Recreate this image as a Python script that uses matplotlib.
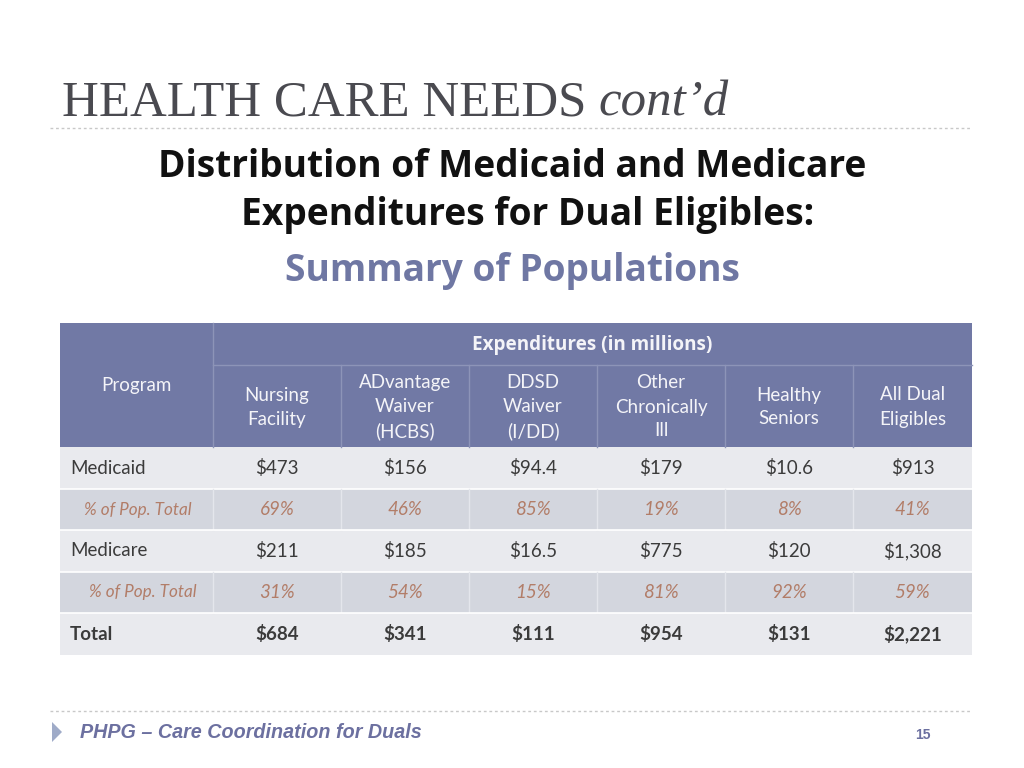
import matplotlib
matplotlib.use("Agg")
import matplotlib.pyplot as plt
from matplotlib.patches import Rectangle, Polygon

# ---------------- data ----------------
columns = ["Nursing\nFacility", "ADvantage\nWaiver\n(HCBS)", "DDSD\nWaiver\n(I/DD)",
           "Other\nChronically\nIll", "Healthy\nSeniors", "All Dual\nEligibles"]
row_labels = ["Medicaid", "% of Pop. Total", "Medicare", "% of Pop. Total", "Total"]
medicaid = [473, 156, 94.4, 179, 10.6, 913]
medicaid_pct = [69, 46, 85, 19, 8, 41]
medicare = [211, 185, 16.5, 775, 120, 1308]
medicare_pct = [31, 54, 15, 81, 92, 59]
total = [684, 341, 111, 954, 131, 2221]

title = "HEALTH CARE NEEDS"
title_it = "cont\u2019d"
subtitle1 = "Distribution of Medicaid and Medicare"
subtitle2 = "Expenditures for Dual Eligibles:"
subtitle3 = "Summary of Populations"
group_header = "Expenditures (in millions)"
program_header = "Program"
footer = "PHPG \u2013 Care Coordination for Duals"
page_no = "15"


def money(v):
    if float(v).is_integer():
        return f"${v:,.0f}"
    return f"${v:,.1f}"


def pct(v):
    return f"{v}%"


# ---------------- layout ----------------
W, H = 1024, 768
fig = plt.figure(figsize=(10.24, 7.68), dpi=100)
ax = fig.add_axes([0, 0, 1, 1])
ax.set_xlim(0, W)
ax.set_ylim(H, 0)
ax.axis("off")

SANS = ["Lato", "DejaVu Sans"]
WIDE = ["Open Sans", "DejaVu Sans"]
SERIF = ["Liberation Serif", "DejaVu Serif"]
HEAD_BG = "#7179a5"
HEAD_LINE = "#8d94b8"
LIGHT_BG = "#e9eaee"
DARK_BG = "#d3d6de"
TXT = "#3b3b3b"
PCT_TXT = "#b27d68"

# title
t = ax.text(62, 115, title, fontsize=36.6, family=SERIF, color="#4a4a50",
            va="baseline", ha="left")
fig.canvas.draw()
bb = t.get_window_extent()
ax.text(bb.x1 + 12, 115, title_it, fontsize=36.6, family=SERIF, style="italic",
        color="#4a4a50", va="baseline", ha="left")
ax.plot([50, 972], [128, 128], color="#c8c8c8", lw=1, ls=(0, (2, 2)))

# subtitles
ax.text(512, 167, subtitle1, fontsize=26.7, family=WIDE, weight="bold", color="#111111",
        ha="center", va="center")
ax.text(528, 215, subtitle2, fontsize=26.7, family=WIDE, weight="bold", color="#111111",
        ha="center", va="center")
ax.text(512, 271, subtitle3, fontsize=26.7, family=WIDE, weight="bold", color="#6f77a3",
        ha="center", va="center")

# table geometry
col_edges = [60, 213, 341, 469, 597, 725, 853, 972]
head_top, head_mid, head_bot = 323, 365, 447
row_edges = [447, 489, 530, 572, 613, 655]

# header background
ax.add_patch(Rectangle((col_edges[0], head_top), col_edges[-1] - col_edges[0],
                       head_bot - head_top, color=HEAD_BG, lw=0))
ax.plot([col_edges[1], col_edges[1]], [head_top, head_bot], color=HEAD_LINE, lw=1)
ax.plot([col_edges[1], col_edges[-1]], [head_mid, head_mid], color=HEAD_LINE, lw=1)
for x in col_edges[2:-1]:
    ax.plot([x, x], [head_mid, head_bot], color=HEAD_LINE, lw=1)

ax.text((col_edges[0] + col_edges[1]) / 2, 386, program_header, fontsize=13.5, family=SANS,
        color="#f4f4f8", ha="center", va="center")
ax.text((col_edges[1] + col_edges[-1]) / 2, 345, group_header, fontsize=13.6, family=WIDE,
        weight="bold", color="#f4f4f8", ha="center", va="center")
for i, name in enumerate(columns):
    cx = (col_edges[i + 1] + col_edges[i + 2]) / 2
    ax.text(cx, (head_mid + head_bot) / 2 + 1, name, fontsize=13.5, family=SANS,
            color="#f4f4f8", ha="center", va="center", linespacing=1.5,
            multialignment="center")

# body
rows = [
    (medicaid, money, LIGHT_BG, TXT, "normal", "normal", 70),
    (medicaid_pct, pct, DARK_BG, PCT_TXT, "normal", "italic", 84),
    (medicare, money, LIGHT_BG, TXT, "normal", "normal", 70),
    (medicare_pct, pct, DARK_BG, PCT_TXT, "normal", "italic", 89),
    (total, money, LIGHT_BG, TXT, "bold", "normal", 70),
]
for r, (vals, fmt, bg, tc, wt, st, lx) in enumerate(rows):
    y0, y1 = row_edges[r], row_edges[r + 1]
    ax.add_patch(Rectangle((col_edges[0], y0), col_edges[-1] - col_edges[0], y1 - y0,
                           color=bg, lw=0))
    if r > 0:
        ax.plot([col_edges[0], col_edges[-1]], [y0, y0], color="white", lw=1.2)
    if bg == DARK_BG:
        for x in col_edges[1:-1]:
            ax.plot([x, x], [y0, y1], color="#e4e6ec", lw=1)
    yc = (y0 + y1) / 2
    fs = 13.5 if st == "normal" else 12.3
    ax.text(lx, yc, row_labels[r], fontsize=fs, family=SANS,
            color=tc, weight=wt, style=st, ha="left", va="center")
    for i, v in enumerate(vals):
        cx = (col_edges[i + 1] + col_edges[i + 2]) / 2
        ax.text(cx, yc, fmt(v), fontsize=13.5, family=SANS,
                color=tc, weight=wt, style=st, ha="center", va="center")

# footer
ax.plot([50, 972], [711, 711], color="#c8c8c8", lw=1, ls=(0, (2, 2)))
ax.add_patch(Polygon([[52, 722], [52, 742], [62, 732]], closed=True, color="#9fabc8", lw=0))
ax.text(80, 732, footer, fontsize=14.2, family=["Liberation Sans", "DejaVu Sans"],
        weight="bold", style="italic", color="#6c70a0", ha="left", va="center")
ax.text(923, 735, page_no, fontsize=10, family=["Liberation Sans", "DejaVu Sans"],
        weight="bold", color="#6c70a0", ha="center", va="center")

fig.savefig("out.png", dpi=100)
